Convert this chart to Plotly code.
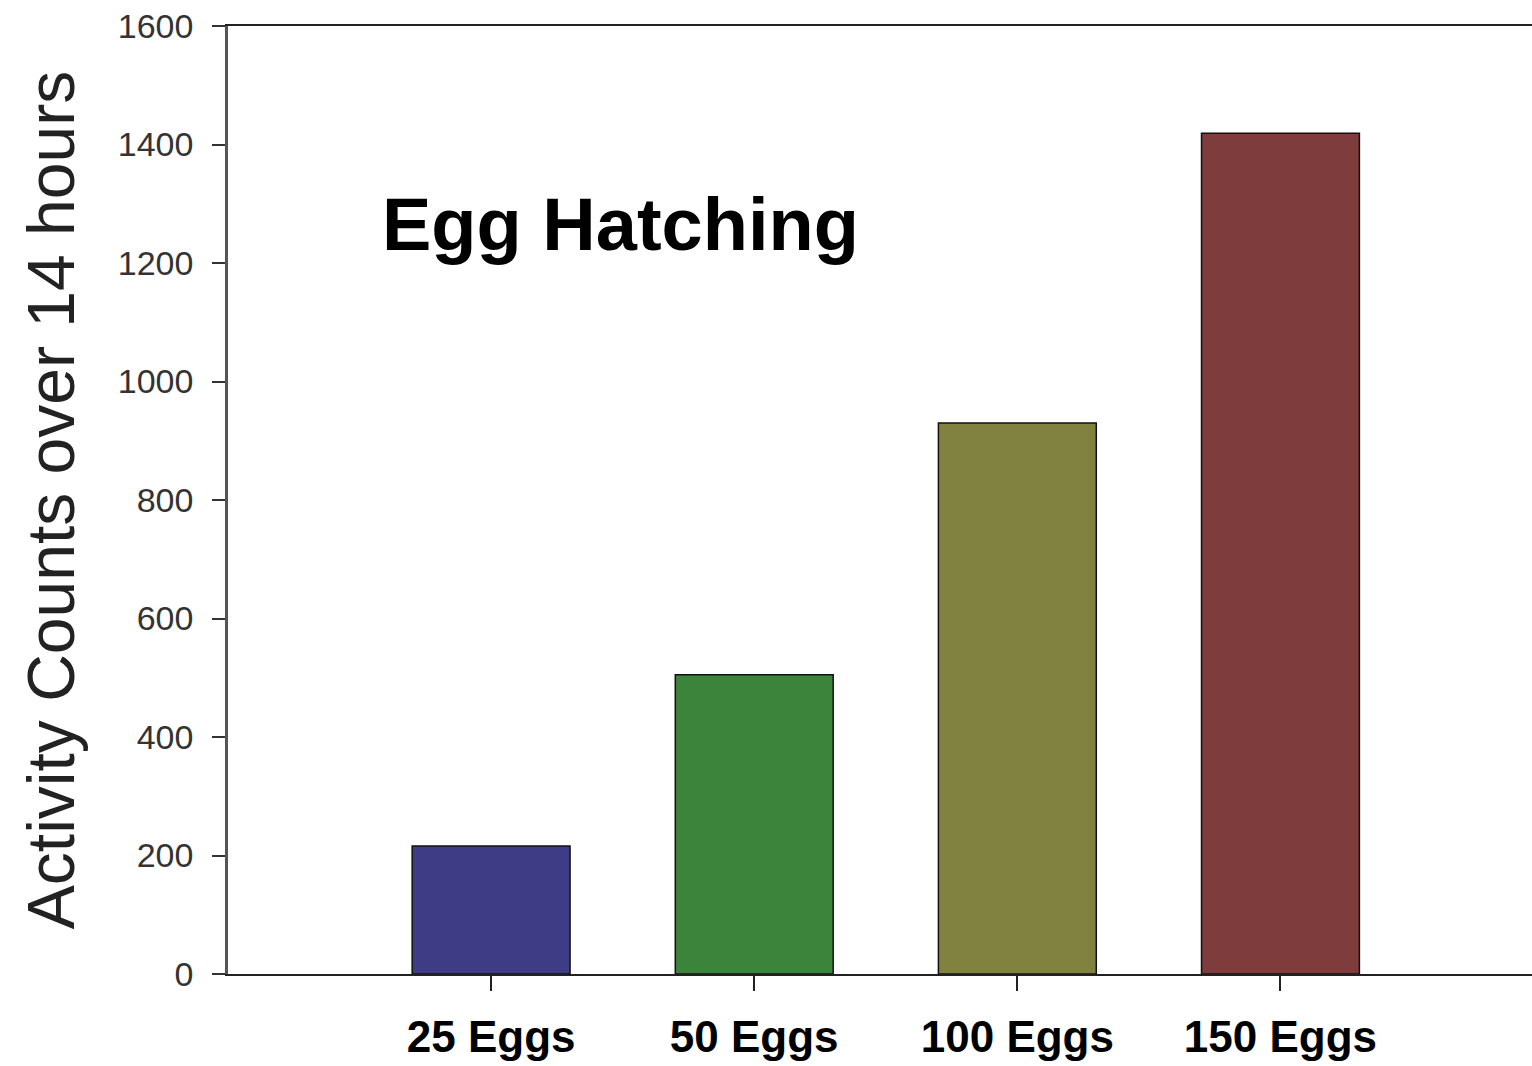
import plotly.graph_objects as go

categories = ["25 Eggs", "50 Eggs", "100 Eggs", "150 Eggs"]
activity_counts = [216, 505, 930, 1419]
bar_colors = ["#3d3c85", "#3c843c", "#828240", "#7e3c3c"]
y_ticks = [0, 200, 400, 600, 800, 1000, 1200, 1400, 1600]

fig = go.Figure()
fig.add_trace(go.Bar(
    x=categories, y=activity_counts,
    marker=dict(color=bar_colors, line=dict(color="#111111", width=1.5)),
    width=0.6, showlegend=False,
))

fig.update_layout(
    width=1532, height=1066,
    margin=dict(l=228, r=0, t=26, b=92),
    paper_bgcolor="white", plot_bgcolor="white",
    font=dict(family="Liberation Sans, Arial, sans-serif"),
    annotations=[dict(
        text="<b>Egg Hatching</b>", xref="paper", yref="y",
        x=0.1166, y=1265, xanchor="left", yanchor="middle",
        showarrow=False, font=dict(size=74, color="black"),
    )],
)
fig.update_xaxes(
    type="category", range=[-1, 3.956],
    showline=True, linecolor="#222222", linewidth=2, mirror=True,
    ticks="outside", ticklen=15, tickwidth=2, tickcolor="#222222",
    tickfont=dict(size=44, color="black", weight="bold"),
    ticklabelstandoff=8,
    showgrid=False, zeroline=False,
)
fig.update_yaxes(
    range=[0, 1600], tickvals=y_ticks,
    showline=True, linecolor="#555555", linewidth=2.5,
    ticks="outside", ticklen=13, tickwidth=2, tickcolor="#333333",
    tickfont=dict(size=34, color="#333333"),
    ticklabelstandoff=12,
    showgrid=False, zeroline=False,
    title=dict(text="Activity Counts over 14 hours", font=dict(size=66, color="#222222"), standoff=22),
)

fig.write_html(
    "out.html",
    config={"displayModeBar": False},
    post_script="document.body.style.margin='0';document.body.style.overflow='hidden';",
)
